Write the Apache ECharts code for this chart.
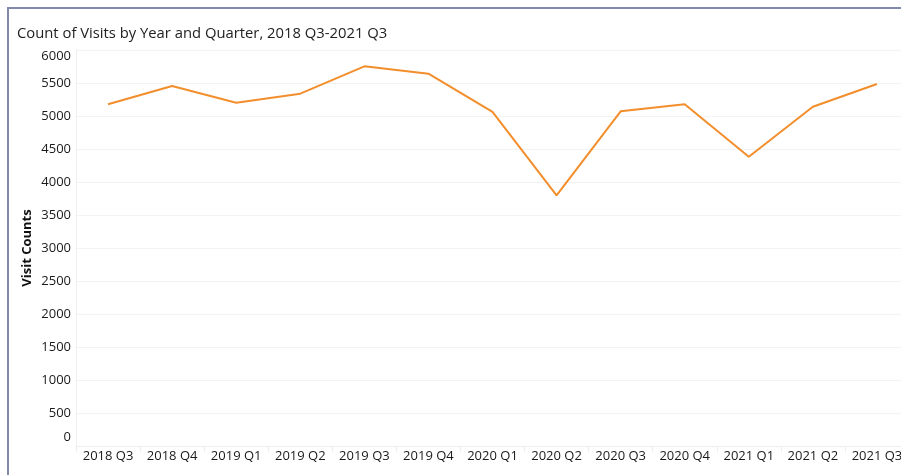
<!DOCTYPE html>
<html>
<head>
<meta charset="utf-8">
<script src="https://cdn.jsdelivr.net/npm/echarts@6/dist/echarts.min.js"></script>
<style>
  html, body { margin: 0; padding: 0; background: #fff; }
  #chart { width: 901px; height: 475px; }
</style>
</head>
<body>
<div id="chart"></div>
<script>
const quarters = ['2018 Q3', '2018 Q4', '2019 Q1', '2019 Q2', '2019 Q3', '2019 Q4',
  '2020 Q1', '2020 Q2', '2020 Q3', '2020 Q4', '2021 Q1', '2021 Q2', '2021 Q3']
const visits = [5177, 5455, 5202, 5338, 5753, 5641, 5061, 3798, 5071, 5177, 4383, 5141, 5485]
const yTicks = { min: 0, max: 6000, interval: 500 }

const font = '"Open Sans", "Noto Sans", sans-serif'
const chart = echarts.init(document.getElementById('chart'))

chart.setOption({
  animation: false,
  title: {
    text: 'Count of Visits by Year and Quarter, 2018 Q3-2021 Q3',
    left: 12,
    top: 21,
    textStyle: { fontFamily: font, fontSize: 14.8, fontWeight: 'normal', color: '#222' }
  },
  graphic: [
    { type: 'line', shape: { x1: 7, y1: 8, x2: 901, y2: 8 }, style: { stroke: '#8089ad', lineWidth: 2 } },
    { type: 'line', shape: { x1: 8, y1: 7, x2: 8, y2: 475 }, style: { stroke: '#8089ad', lineWidth: 2 } }
  ],
  // plot runs past the right edge of the window, as in the original
  grid: { left: 76, top: 50, width: 833, bottom: 29, outerBoundsMode: 'none', containLabel: false },
  xAxis: {
    type: 'category',
    data: quarters,
    boundaryGap: true,
    axisLine: { lineStyle: { color: '#eeeeee' } },
    axisTick: { show: true, length: 6, lineStyle: { color: '#eeeeee' } },
    axisLabel: { fontFamily: font, fontSize: 13, color: '#1a1a1a', margin: 4, interval: 0 }
  },
  yAxis: {
    type: 'value',
    min: yTicks.min,
    max: yTicks.max,
    interval: yTicks.interval,
    name: 'Visit Counts',
    nameLocation: 'middle',
    nameGap: 42,
    nameMoveOverlap: false,
    nameTextStyle: { fontFamily: font, fontSize: 13, fontWeight: 'bold', color: '#111' },
    axisLine: { show: true, lineStyle: { color: '#eeeeee' } },
    axisTick: { show: false },
    splitLine: { lineStyle: { color: '#f3f3f3' } },
    axisLabel: {
      fontFamily: font, fontSize: 13, color: '#1a1a1a', margin: 5,
      formatter: v => v === yTicks.max ? '{top|' + v + '}' : v === yTicks.min ? '{bot|' + v + '}' : '' + v,
      rich: {
        top: { fontFamily: font, fontSize: 13, color: '#1a1a1a', padding: [12, 0, 0, 0] },
        bot: { fontFamily: font, fontSize: 13, color: '#1a1a1a', padding: [0, 0, 18, 0] }
      }
    }
  },
  series: [{
    type: 'line',
    data: visits,
    symbol: 'none',
    lineStyle: { color: '#f28e2b', width: 2 },
    itemStyle: { color: '#f28e2b' }
  }]
})
</script>
</body>
</html>
